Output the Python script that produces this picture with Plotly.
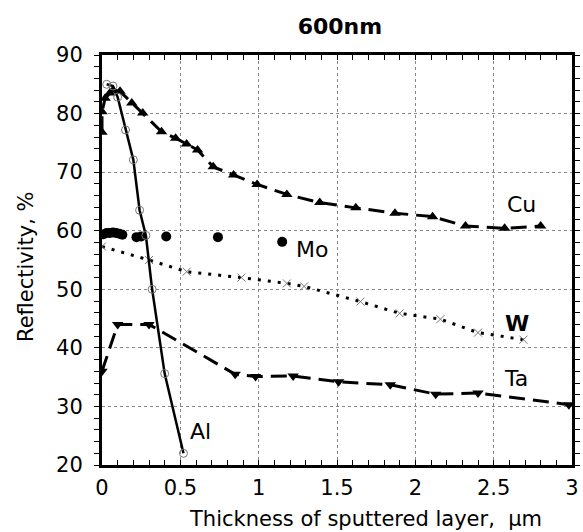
import plotly.graph_objects as go

# ---- data ----
cu_x = [0.0, 0.0, 0.02, 0.05, 0.07, 0.115, 0.19, 0.26, 0.38, 0.47, 0.54, 0.61, 0.71, 0.84, 0.99, 1.18, 1.39, 1.62, 1.87, 2.11, 2.32, 2.57, 2.80]
cu_y = [76.8, 80.3, 82.6, 83.5, 84.0, 83.8, 81.8, 80.1, 76.9, 75.8, 74.8, 73.8, 70.9, 69.5, 67.9, 66.2, 64.8, 63.9, 63.0, 62.4, 60.8, 60.4, 60.8]

mo_x = [0.01, 0.03, 0.05, 0.07, 0.09, 0.11, 0.13, 0.22, 0.25, 0.41, 0.74, 1.15]
mo_y = [59.4, 59.6, 59.6, 59.7, 59.6, 59.5, 59.3, 58.9, 59.0, 59.0, 58.9, 58.1]

w_x = [0.0, 0.30, 0.54, 0.89, 1.18, 1.29, 1.65, 1.90, 2.16, 2.40, 2.69]
w_y = [57.3, 55.0, 53.0, 52.0, 51.0, 50.5, 47.9, 45.9, 44.9, 42.6, 41.4]

ta_x = [0.0, 0.10, 0.30, 0.85, 0.98, 1.22, 1.51, 1.84, 2.13, 2.40, 2.98]
ta_y = [36.0, 44.0, 44.0, 35.5, 35.1, 35.2, 34.2, 33.7, 32.1, 32.3, 30.3]

al_x = [0.03, 0.07, 0.10, 0.15, 0.20, 0.24, 0.28, 0.32, 0.40, 0.52]
al_y = [85.0, 84.7, 82.8, 77.2, 72.1, 63.5, 59.2, 50.0, 35.6, 22.0]

labels = ["Cu", "Mo", "W", "Ta", "Al"]
label_x = [2.68, 1.34, 2.65, 2.64, 0.63]
label_y = [64.4, 56.8, 44.1, 34.7, 25.7]

x_ticks = [0, 0.5, 1, 1.5, 2, 2.5, 3]
x_tick_text = ["0", "0.5", "1", "1.5", "2", "2.5", "3"]
y_ticks = [20, 30, 40, 50, 60, 70, 80, 90]

x_title = "Thickness of sputtered layer,  \u00b5m"
y_title = "Reflectivity, %"
chart_title = "600nm"

FONT = "DejaVu Sans, sans-serif"

fig = go.Figure()

fig.add_trace(go.Scatter(
    x=cu_x, y=cu_y, mode="lines+markers", name="Cu",
    line=dict(color="black", width=3, dash="16px,8px"),
    marker=dict(symbol="triangle-up", size=10, color="black")))

fig.add_trace(go.Scatter(
    x=ta_x, y=ta_y, mode="lines+markers", name="Ta",
    line=dict(color="black", width=3, dash="16px,8px"),
    marker=dict(symbol="triangle-down", size=10, color="black")))

fig.add_trace(go.Scatter(
    x=w_x, y=w_y, mode="lines+markers", name="W",
    line=dict(color="black", width=3, dash="3px,7px"),
    marker=dict(symbol="x-thin", size=8, color="#777777",
                line=dict(color="#777777", width=1))))

fig.add_trace(go.Scatter(
    x=mo_x, y=mo_y, mode="markers", name="Mo",
    marker=dict(symbol="circle", size=10, color="black")))

fig.add_trace(go.Scatter(
    x=al_x, y=al_y, mode="lines+markers", name="Al",
    line=dict(color="black", width=2.5),
    marker=dict(symbol="circle-open", size=8, color="#777777",
                line=dict(color="#777777", width=1))))

for t, lx, ly in zip(labels, label_x, label_y):
    bold = (t == "W")
    fig.add_annotation(
        x=lx, y=ly, text=f"<b>{t}</b>" if bold else t, showarrow=False,
        font=dict(family=FONT, size=22, color="black"))

# axis titles placed as paper annotations
fig.add_annotation(xref="paper", yref="paper", x=0.181, y=-0.131,
                   xanchor="left", yanchor="middle", showarrow=False,
                   text=x_title, font=dict(family=FONT, size=21, color="black"))
fig.add_annotation(xref="paper", yref="paper", x=-0.162, y=0.485,
                   xanchor="center", yanchor="middle", showarrow=False, textangle=-90,
                   text=y_title, font=dict(family=FONT, size=21, color="black"))

axis_common = dict(
    showline=True, linecolor="black", linewidth=3, mirror="allticks",
    showgrid=True, gridcolor="#888888", griddash="dot", gridwidth=1,
    zeroline=False, tickcolor="black", ticklen=5, tickwidth=1,
    tickfont=dict(family=FONT, size=21, color="black"),
    automargin=False,
)

fig.update_xaxes(
    range=[0, 3], tickvals=x_ticks, ticktext=x_tick_text, ticks="inside",
    ticklabelstandoff=2,
    minor=dict(dtick=0.1, ticks="inside", ticklen=5, tickcolor="black", showgrid=False),
    **axis_common)

fig.update_yaxes(
    range=[20, 90], tickvals=y_ticks, ticks="outside",
    ticklabelstandoff=7,
    minor=dict(dtick=2, ticks="outside", ticklen=5, tickcolor="black", showgrid=False),
    **axis_common)

fig.update_layout(
    width=583, height=532,
    margin=dict(l=102, r=11, t=55, b=67),
    paper_bgcolor="white", plot_bgcolor="white",
    showlegend=False,
    title=dict(text=f"<b>{chart_title}</b>", x=0.583, xanchor="center", y=0.95, yanchor="middle",
               font=dict(family=FONT, size=22, color="black")),
)

fig.write_html(
    "out.html",
    config={"displayModeBar": False},
    post_script="document.body.style.margin='0px';document.body.style.padding='0px';"
                "document.body.style.overflow='hidden';",
)
